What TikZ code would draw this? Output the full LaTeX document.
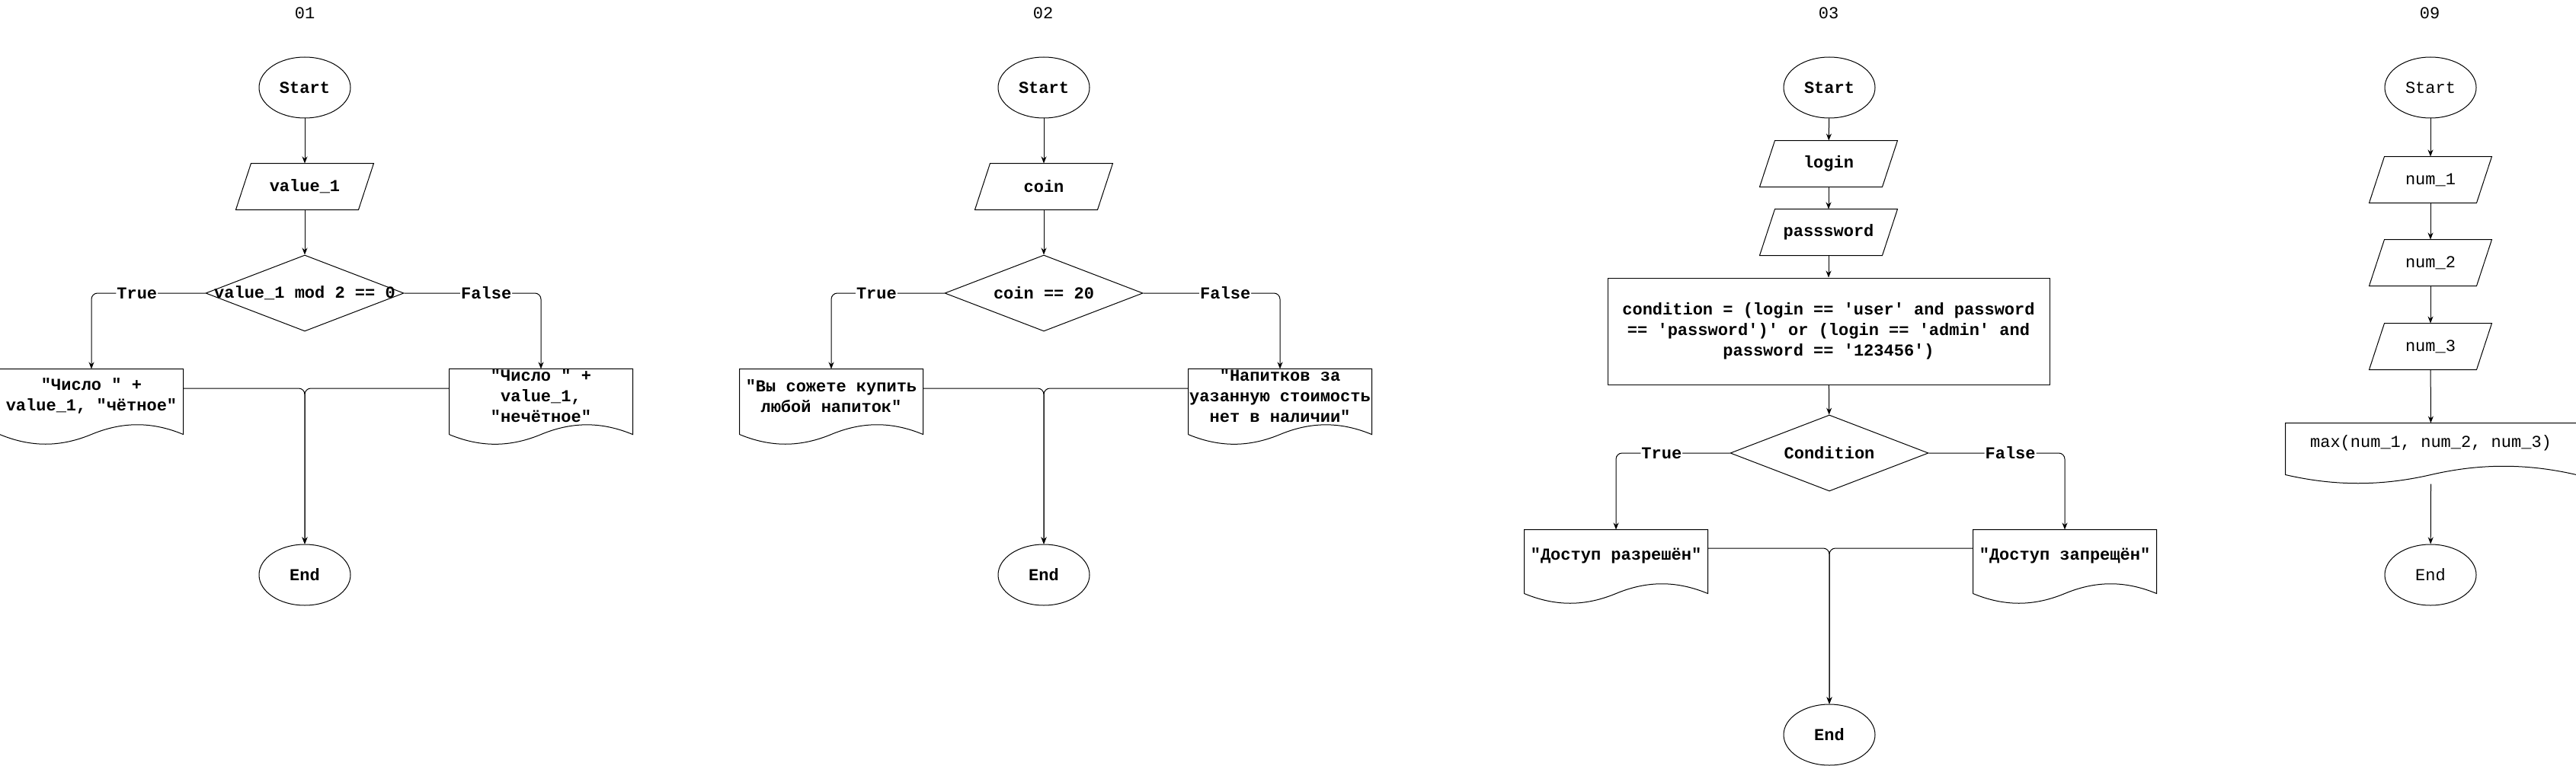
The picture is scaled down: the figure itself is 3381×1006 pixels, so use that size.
\documentclass[tikz,border=0pt]{standalone}
\usepackage{fontspec}
\usepackage{tikz}
\usetikzlibrary{shapes.geometric, arrows.meta, calc}
\newfontfamily\codefont[Ligatures=TeXOff]{Liberation Mono}

\tikzset{
  terminal/.style={ellipse, draw, minimum width=120, minimum height=80, inner sep=0},
  inbox/.style={minimum width=#1, minimum height=60, inner sep=0},
  decision/.style={diamond, draw, minimum width=260, minimum height=100, inner sep=0},
  process/.style={rectangle, draw, minimum width=580, minimum height=140, align=center},
  doc/.style={minimum width=#1, minimum height=70, inner sep=0, align=center},
  lbl/.style={fill=white, inner sep=1pt},
  boldtext/.style={font=\codefont\bfseries\fontsize{22}{27}\selectfont}
}

% parallelogram round a node
\newcommand{\ioshape}[1]{%
  \draw ([xshift=10pt]#1.north west) -- ([xshift=10pt]#1.north east)
    -- ([xshift=-10pt]#1.south east) -- ([xshift=-10pt]#1.south west) -- cycle;}

% document shape (wavy bottom) round a node
\newcommand{\docshape}[2]{%
  \path ([yshift=-15pt]#1.south west) coordinate (#1-bl)
        ([yshift=-15pt]#1.south east) coordinate (#1-br);
  \draw (#1-bl) -- (#1.north west) -- (#1.north east) -- (#1-br)
    .. controls ($(#1-br)!0.17!(#1-bl)+(0,-#2)$) and ($(#1-br)!0.33!(#1-bl)+(0,-#2)$) .. ($(#1-br)!0.5!(#1-bl)$)
    .. controls ($(#1-br)!0.67!(#1-bl)+(0,#2)$) and ($(#1-br)!0.83!(#1-bl)+(0,#2)$) .. (#1-bl);}

\begin{document}
\begin{tikzpicture}[x=1pt, y=-1pt, line width=1pt, >={Stealth[length=9pt, width=7pt]},
  font=\codefont\fontsize{22}{27}\selectfont]

    \useasboundingbox (0,0) rectangle (3381,1006);

    % Titles
    \node (t01) at (400,17) {01};
    \node (t02) at (1369,17) {02};
    \node (t03) at (2400,17) {03};
    \node (t09) at (3189,17) {09};

    % Flowchart 01
    \begin{scope}[boldtext]
    \node[terminal] (s1) at (400,115) {Start};
    \node[inbox=160] (i1) at (400,245) {value\_1};
    \node[decision] (d1) at (400,385) {};
    \node (d1t) at (d1) {value\_1 mod 2 == 0};
    \node[doc=240] (o1a) at (120,520) {"Число " +\\value\_1, "чётное"};
    \node[doc=240] (o1b) at (710,520) {"Число " +\\value\_1,\\"нечётное"};
    \node[terminal] (e1) at (400,755) {End};
    \ioshape{i1}
    \docshape{o1a}{17}
    \docshape{o1b}{17}
    \draw[->] (s1) -- (i1);
    \draw[->] (i1) -- (d1);
    \draw[->, rounded corners=8] (d1.west) -| node[lbl, pos=0.3] (l1t) {True} (o1a.north);
    \draw[->, rounded corners=8] (d1.east) -| node[lbl, pos=0.3] (l1f) {False} (o1b.north);
    \draw[->, rounded corners=8] ([yshift=10pt]o1a.east) -| (e1.north);
    \draw[->, rounded corners=8] ([yshift=10pt]o1b.west) -| (e1.north);
    \end{scope}

    % Flowchart 02
    \begin{scope}[boldtext]
    \node[terminal] (s2) at (1370,115) {Start};
    \node[inbox=160] (i2) at (1370,245) {coin};
    \node[decision] (d2) at (1370,385) {};
    \node (d2t) at (d2) {coin == 20};
    \node[doc=240] (o2a) at (1091,520) {"Вы сожете купить\\любой напиток"};
    \node[doc=240] (o2b) at (1680,520) {"Напитков за\\уазанную стоимость\\нет в наличии"};
    \node[terminal] (e2) at (1370,755) {End};
    \ioshape{i2}
    \docshape{o2a}{17}
    \docshape{o2b}{17}
    \draw[->] (s2) -- (i2);
    \draw[->] (i2) -- (d2);
    \draw[->, rounded corners=8] (d2.west) -| node[lbl, pos=0.3] (l2t) {True} (o2a.north);
    \draw[->, rounded corners=8] (d2.east) -| node[lbl, pos=0.3] (l2f) {False} (o2b.north);
    \draw[->, rounded corners=8] ([yshift=10pt]o2a.east) -| (e2.north);
    \draw[->, rounded corners=8] ([yshift=10pt]o2b.west) -| (e2.north);
    \end{scope}

    % Flowchart 03
    \begin{scope}[boldtext]
    \node[terminal] (s3) at (2401,115) {Start};
    \node[inbox=160] (i3a) at (2400,215) {login};
    \node[inbox=160] (i3b) at (2400,305) {passsword};
    \node[process] (p3) at (2400,435) {condition = (login == 'user' and password\\== 'password')' or (login == 'admin' and\\password == '123456')};
    \node[decision] (d3) at (2401,595) {};
    \node (d3t) at (d3) {Condition};
    \node[doc=240, minimum height=68] (o3a) at (2121,730) {"Доступ разрешён"};
    \node[doc=240, minimum height=68] (o3b) at (2710,730) {"Доступ запрещён"};
    \node[terminal] (e3) at (2401,965) {End};
    \ioshape{i3a}
    \ioshape{i3b}
    \docshape{o3a}{17}
    \docshape{o3b}{17}
    \draw[->] (s3) -- (i3a);
    \draw[->] (i3a) -- (i3b);
    \draw[->] (i3b) -- (p3);
    \draw[->] (p3) -- (d3);
    \draw[->, rounded corners=8] (d3.west) -| node[lbl, pos=0.3] (l3t) {True} (o3a.north);
    \draw[->, rounded corners=8] (d3.east) -| node[lbl, pos=0.3] (l3f) {False} (o3b.north);
    \draw[->, rounded corners=8] ([yshift=10pt]o3a.east) -| (e3.north);
    \draw[->, rounded corners=8] ([yshift=10pt]o3b.west) -| (e3.north);
    \end{scope}

    % Flowchart 09
    \node[terminal] (s9) at (3190,115) {Start};
    \node[inbox=140] (n1) at (3190,236) {num\_1};
    \node[inbox=140] (n2) at (3190,345) {num\_2};
    \node[inbox=140] (n3) at (3190,455) {num\_3};
    \node[doc=381, minimum height=52] (o9) at (3190.5,582) {max(num\_1, num\_2, num\_3)};
    \node[terminal] (e9) at (3190,755) {End};
    \ioshape{n1}
    \ioshape{n2}
    \ioshape{n3}
    \docshape{o9}{15}
    \draw[->] (s9) -- (n1);
    \draw[->] (n1) -- (n2);
    \draw[->] (n2) -- (n3);
    \draw[->] (n3) -- (o9);
    \draw[->] ([yshift=-27pt]o9.south) -- (e9);

\end{tikzpicture}
\end{document}
